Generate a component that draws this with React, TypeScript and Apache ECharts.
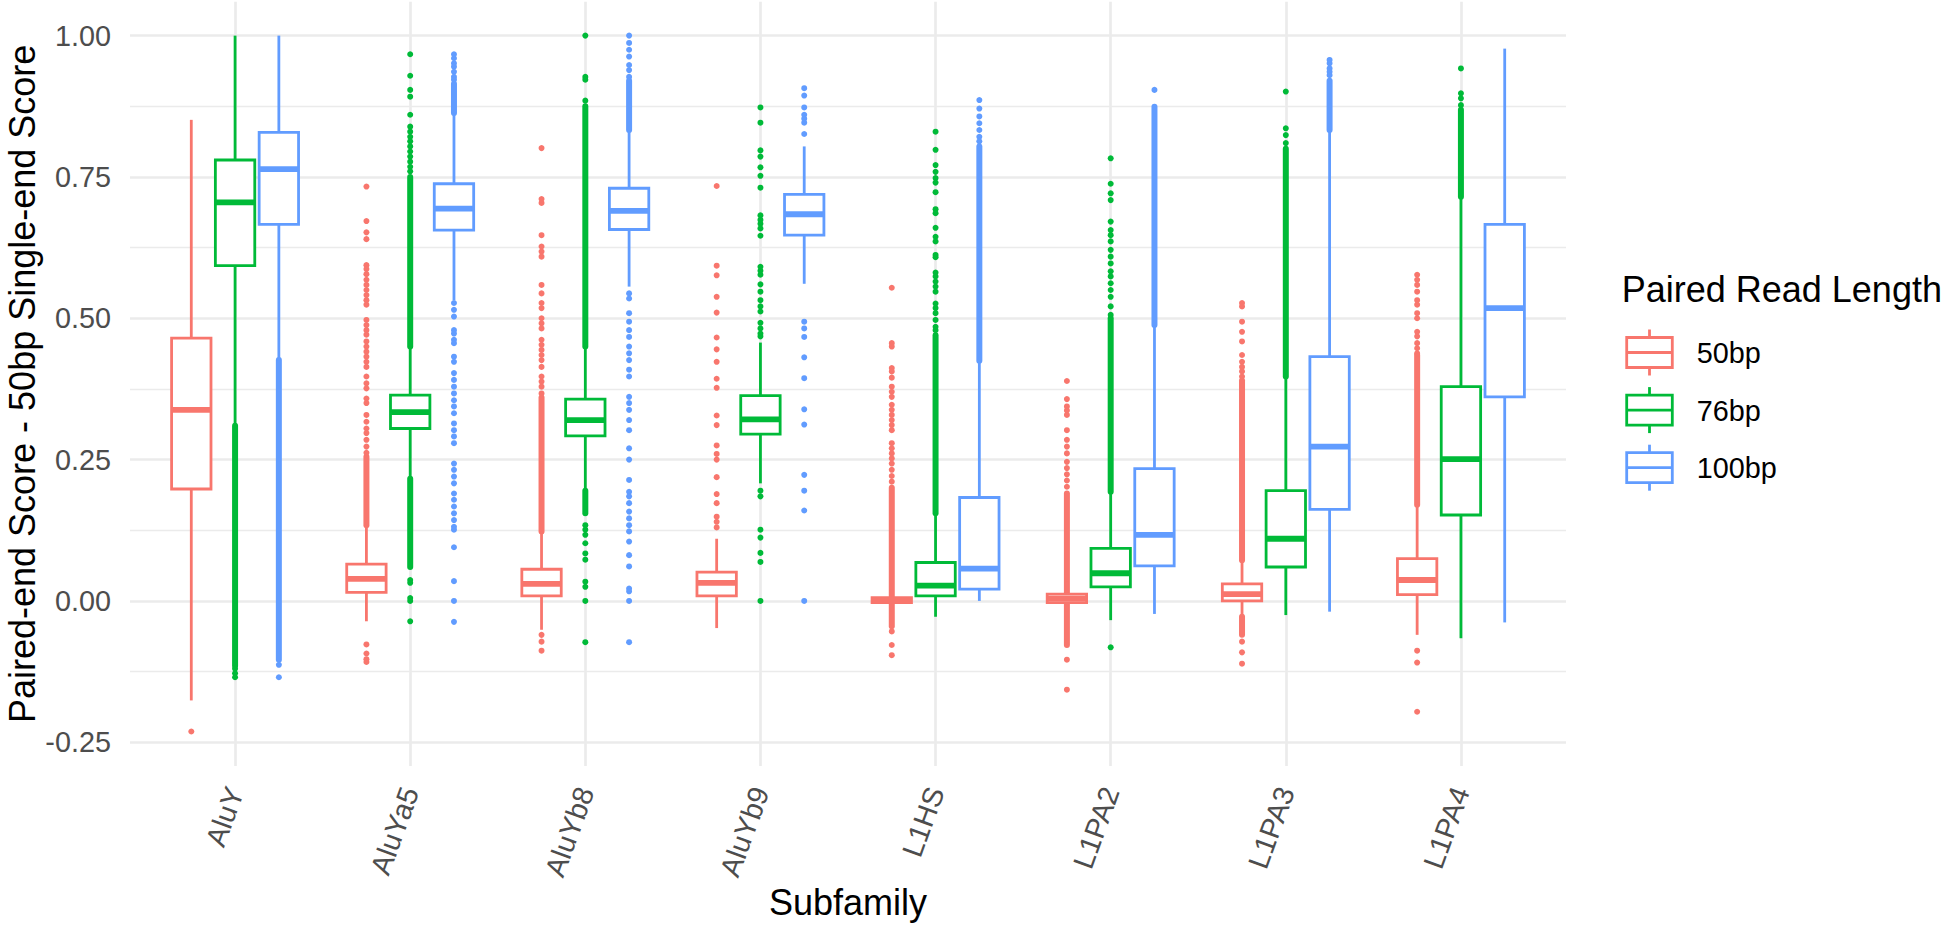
import React, { useEffect, useRef } from 'react';
import * as echarts from 'echarts';

// ---------------- data ----------------
const CATEGORIES = ['AluY', 'AluYa5', 'AluYb8', 'AluYb9', 'L1HS', 'L1PA2', 'L1PA3', 'L1PA4'];
const GROUPS = ['50bp', '76bp', '100bp'];
const COLORS = ['#F8766D', '#00BA38', '#619CFF'];

// [lower whisker, Q1, median, Q3, upper whisker]
const BOX_50 = [
  [-0.176, 0.198, 0.338, 0.465, 0.851],
  [-0.036, 0.015, 0.039, 0.065, 0.134],
  [-0.051, 0.009, 0.030, 0.056, 0.123],
  [-0.048, 0.009, 0.032, 0.051, 0.110],
  [-0.018, -0.003, 0.001, 0.006, 0.020],
  [-0.018, -0.003, 0.004, 0.012, 0.034],
  [-0.028, 0.000, 0.012, 0.030, 0.072],
  [-0.060, 0.011, 0.037, 0.075, 0.170],
];
const BOX_76 = [
  [0.310, 0.593, 0.705, 0.780, 1.000],
  [0.216, 0.305, 0.334, 0.364, 0.450],
  [0.195, 0.292, 0.320, 0.357, 0.450],
  [0.208, 0.295, 0.321, 0.363, 0.457],
  [-0.028, 0.009, 0.027, 0.068, 0.155],
  [-0.034, 0.025, 0.049, 0.093, 0.193],
  [-0.025, 0.060, 0.110, 0.195, 0.397],
  [-0.066, 0.152, 0.251, 0.379, 0.715],
];
const BOX_100 = [
  [0.426, 0.666, 0.764, 0.829, 1.000],
  [0.532, 0.656, 0.694, 0.738, 0.863],
  [0.556, 0.657, 0.690, 0.730, 0.833],
  [0.561, 0.647, 0.684, 0.719, 0.804],
  [0.000, 0.021, 0.057, 0.183, 0.425],
  [-0.023, 0.062, 0.117, 0.234, 0.488],
  [-0.019, 0.162, 0.273, 0.432, 0.833],
  [-0.038, 0.361, 0.518, 0.666, 0.977],
];

// stretches of outliers so dense they merge into a solid column: [from, to]
const RUN_50 = [
  [],
  [[0.134, 0.255]],
  [[0.123, 0.36]],
  [],
  [[0.006, 0.20], [-0.045, -0.003]],
  [[0.012, 0.19], [-0.078, -0.003]],
  [[0.072, 0.39], [-0.06, -0.028]],
  [[0.17, 0.435]],
];
const RUN_76 = [
  [[-0.115, 0.31]],
  [[0.45, 0.75], [0.06, 0.216]],
  [[0.45, 0.875], [0.155, 0.195]],
  [],
  [[0.155, 0.47]],
  [[0.193, 0.50]],
  [[0.397, 0.80]],
  [[0.715, 0.869]],
];
const RUN_100 = [
  [[-0.104, 0.426]],
  [[0.863, 0.915]],
  [[0.833, 0.92]],
  [],
  [[0.425, 0.804]],
  [[0.488, 0.874]],
  [[0.833, 0.92]],
  [],
];

// individual outliers
const OUT_50 = [
  [-0.231],
  [0.733, 0.672, 0.652, 0.640, 0.594, 0.587, 0.578, 0.568, 0.559, 0.550, 0.541, 0.532, 0.524, 0.497, 0.488, 0.479, 0.471, 0.459, 0.450, 0.441, 0.432, 0.423, 0.414, 0.397, 0.385, 0.376, 0.358, 0.350, 0.329, 0.317, 0.305, 0.297, 0.285, 0.273, 0.262, -0.077, -0.093, -0.103, -0.108],
  [0.801, 0.711, 0.704, 0.647, 0.627, 0.618, 0.609, 0.559, 0.544, 0.527, 0.518, 0.500, 0.491, 0.482, 0.462, 0.453, 0.444, 0.435, 0.426, 0.414, 0.397, 0.388, 0.379, 0.367, -0.060, -0.072, -0.088],
  [0.734, 0.593, 0.576, 0.538, 0.510, 0.466, 0.445, 0.423, 0.393, 0.377, 0.328, 0.311, 0.275, 0.260, 0.250, 0.219, 0.189, 0.173, 0.149, 0.140, 0.130],
  [0.554, 0.456, 0.450, 0.412, 0.406, 0.395, 0.379, 0.370, 0.361, 0.347, 0.338, 0.329, 0.320, 0.311, 0.302, 0.279, 0.270, 0.261, 0.252, 0.243, 0.232, 0.221, 0.211, -0.054, -0.078, -0.096],
  [0.389, 0.357, 0.344, 0.337, 0.329, 0.302, 0.285, 0.273, 0.261, 0.246, 0.235, 0.224, 0.213, 0.202, -0.104, -0.157],
  [0.527, 0.521, 0.494, 0.476, 0.459, 0.435, 0.423, 0.414, 0.406, 0.397, -0.072, -0.091, -0.111],
  [0.577, 0.568, 0.559, 0.547, 0.532, 0.524, 0.509, 0.500, 0.476, 0.468, 0.456, 0.447, 0.438, -0.088, -0.109, -0.196],
];
const OUT_76 = [
  [-0.12, -0.128, -0.135],
  [0.967, 0.929, 0.904, 0.892, 0.860, 0.839, 0.830, 0.821, 0.813, 0.804, 0.795, 0.786, 0.777, 0.768, 0.760, 0.037, 0.032, 0.005, 0.0, -0.036],
  [1.0, 0.927, 0.922, 0.885, 0.134, 0.126, 0.117, 0.102, 0.084, 0.073, 0.034, 0.025, 0.0, -0.073],
  [0.873, 0.846, 0.797, 0.786, 0.767, 0.752, 0.731, 0.682, 0.674, 0.667, 0.659, 0.646, 0.591, 0.584, 0.577, 0.560, 0.547, 0.532, 0.521, 0.512, 0.492, 0.482, 0.473, 0.468, 0.195, 0.185, 0.126, 0.112, 0.085, 0.069, 0.0],
  [0.830, 0.798, 0.771, 0.759, 0.748, 0.740, 0.723, 0.693, 0.686, 0.660, 0.644, 0.636, 0.612, 0.608, 0.581, 0.574, 0.565, 0.556, 0.547, 0.526, 0.518, 0.509, 0.497, 0.485, 0.479],
  [0.783, 0.738, 0.721, 0.709, 0.671, 0.656, 0.647, 0.636, 0.621, 0.609, 0.597, 0.583, 0.574, 0.562, 0.550, 0.538, 0.521, 0.506, -0.082],
  [0.901, 0.836, 0.824, 0.810],
  [0.942, 0.898, 0.889, 0.877],
];
const OUT_100 = [
  [-0.113, -0.135],
  [0.967, 0.960, 0.951, 0.945, 0.936, 0.927, 0.922, 0.527, 0.515, 0.503, 0.479, 0.473, 0.462, 0.456, 0.432, 0.423, 0.403, 0.391, 0.379, 0.367, 0.355, 0.344, 0.332, 0.314, 0.302, 0.291, 0.279, 0.243, 0.232, 0.220, 0.208, 0.190, 0.179, 0.167, 0.155, 0.143, 0.131, 0.126, 0.095, 0.035, 0.0, -0.037],
  [1.0, 0.987, 0.975, 0.963, 0.948, 0.939, 0.927, 0.544, 0.535, 0.509, 0.494, 0.479, 0.467, 0.450, 0.438, 0.426, 0.409, 0.397, 0.361, 0.350, 0.338, 0.320, 0.302, 0.270, 0.250, 0.214, 0.193, 0.185, 0.173, 0.158, 0.146, 0.134, 0.123, 0.105, 0.081, 0.061, 0.022, 0.017, 0.0, -0.073],
  [0.907, 0.894, 0.873, 0.860, 0.853, 0.846, 0.826, 0.494, 0.482, 0.467, 0.431, 0.394, 0.339, 0.312, 0.223, 0.195, 0.160, 0.0],
  [0.886, 0.871, 0.857, 0.845, 0.833, 0.821, 0.813],
  [0.904],
  [0.957, 0.951, 0.942, 0.936, 0.930],
  [],
];

const BOXES = [BOX_50, BOX_76, BOX_100];
const RUNS = [RUN_50, RUN_76, RUN_100];
const OUTS = [OUT_50, OUT_76, OUT_100];

const Y_TITLE = 'Paired-end Score - 50bp Single-end Score';
const X_TITLE = 'Subfamily';
const LEGEND_TITLE = 'Paired Read Length';

// ---------------- layout ----------------
const W = 1946;
const H = 927;
const FONT = '"Liberation Sans", Arial, Helvetica, sans-serif';
const PANEL_LEFT = 130;
const PANEL_RIGHT = 1566;
const PANEL_TOP = 1.7;
const PANEL_BOTTOM = 766;
const X_MIN = 0.4;
const X_MAX = 8.6;
const Y_MIN = -0.292;
const Y_MAX = 1.06;
const TICK_MIN = -0.25;
const TICK_MAX = 1.0;
const DODGE = 0.25;
const BOX_W = 0.225;
const OFFSETS = [-DODGE, 0, DODGE];
const LW = 2.8;
const MED_LW = 5.8;
const DOT = 6;
const GRID_COLOR = '#EBEBEB';

const panelW = PANEL_RIGHT - PANEL_LEFT;
const panelH = PANEL_BOTTOM - PANEL_TOP;
const pxPerY = panelH / (Y_MAX - Y_MIN);
const pxPerX = panelW / (X_MAX - X_MIN);
const yPix = (v: number) => PANEL_TOP + (Y_MAX - v) * pxPerY;

function makeBoxRender(g: number) {
  return (params: any, api: any) => {
    const x = api.value(0) + OFFSETS[g];
    const c = COLORS[g];
    const low = api.coord([x, api.value(1)]);
    const q1 = api.coord([x, api.value(2)]);
    const med = api.coord([x, api.value(3)]);
    const q3 = api.coord([x, api.value(4)]);
    const high = api.coord([x, api.value(5)]);
    const half = api.size([BOX_W, 0])[0] / 2;
    const cx = low[0];
    return {
      type: 'group',
      children: [
        { type: 'line', shape: { x1: cx, y1: low[1], x2: cx, y2: q1[1] }, style: { stroke: c, lineWidth: LW } },
        { type: 'line', shape: { x1: cx, y1: q3[1], x2: cx, y2: high[1] }, style: { stroke: c, lineWidth: LW } },
        {
          type: 'rect',
          shape: { x: cx - half, y: q3[1], width: half * 2, height: q1[1] - q3[1] },
          style: { fill: '#FFFFFF', stroke: c, lineWidth: LW },
        },
        { type: 'line', shape: { x1: cx - half, y1: med[1], x2: cx + half, y2: med[1] }, style: { stroke: c, lineWidth: MED_LW } },
      ],
    };
  };
}

function makeRunRender(g: number) {
  return (params: any, api: any) => {
    const x = api.value(0) + OFFSETS[g];
    const a = api.coord([x, api.value(1)]);
    const b = api.coord([x, api.value(2)]);
    return {
      type: 'line',
      shape: { x1: a[0], y1: a[1], x2: b[0], y2: b[1] },
      style: { stroke: COLORS[g], lineWidth: DOT, lineCap: 'round' },
    };
  };
}

function buildOption() {
  const series: any[] = [];
  GROUPS.forEach((name, g) => {
    series.push({
      type: 'scatter',
      name,
      xAxisIndex: 0,
      yAxisIndex: 0,
      symbol: 'circle',
      symbolSize: DOT,
      itemStyle: { color: COLORS[g], opacity: 1 },
      z: 2,
      silent: true,
      data: OUTS[g].flatMap((vals, i) => vals.map((v) => [i + 1 + OFFSETS[g], v])),
    });
    series.push({
      type: 'custom',
      name,
      xAxisIndex: 0,
      yAxisIndex: 0,
      z: 2,
      silent: true,
      renderItem: makeRunRender(g),
      encode: { x: 0, y: [1, 2] },
      data: RUNS[g].flatMap((rs: number[][], i) => rs.map((r) => [i + 1, r[0], r[1]])),
    });
    series.push({
      type: 'custom',
      name,
      xAxisIndex: 0,
      yAxisIndex: 0,
      z: 3,
      silent: true,
      renderItem: makeBoxRender(g),
      encode: { x: 0, y: [1, 2, 3, 4, 5] },
      data: BOXES[g].map((s, i) => [i + 1, ...s]),
    });
  });

  const keyX = 1626.7;
  const keyW = 45.6;
  const keyH = 30;
  const keyTop = 352.5;
  const keyStep = 57.6;
  const legend: any[] = [
    {
      type: 'text',
      x: 1621.7,
      y: 289,
      style: { text: LEGEND_TITLE, fontSize: 36, fontFamily: FONT, fill: '#000000', align: 'left', verticalAlign: 'middle' },
    },
  ];
  GROUPS.forEach((name, g) => {
    const cy = keyTop + g * keyStep;
    const cx = keyX + keyW / 2;
    legend.push(
      { type: 'line', shape: { x1: cx, y1: cy - keyH / 2 - 8, x2: cx, y2: cy - keyH / 2 }, style: { stroke: COLORS[g], lineWidth: LW } },
      { type: 'line', shape: { x1: cx, y1: cy + keyH / 2, x2: cx, y2: cy + keyH / 2 + 8 }, style: { stroke: COLORS[g], lineWidth: LW } },
      { type: 'rect', shape: { x: keyX, y: cy - keyH / 2, width: keyW, height: keyH }, style: { fill: '#FFFFFF', stroke: COLORS[g], lineWidth: LW } },
      { type: 'line', shape: { x1: keyX, y1: cy, x2: keyX + keyW, y2: cy }, style: { stroke: COLORS[g], lineWidth: LW } },
      {
        type: 'text',
        x: 1696.7,
        y: cy + 0.5,
        style: { text: name, fontSize: 28.8, fontFamily: FONT, fill: '#000000', align: 'left', verticalAlign: 'middle' },
      }
    );
  });

  const gridCommon = { outerBoundsMode: 'none', containLabel: false };

  return {
    animation: false,
    backgroundColor: '#FFFFFF',
    textStyle: { fontFamily: FONT },
    grid: [
      // data panel
      { ...gridCommon, left: PANEL_LEFT, top: PANEL_TOP, width: panelW, height: panelH },
      // y ticks / horizontal grid lines
      { ...gridCommon, left: PANEL_LEFT, top: yPix(TICK_MAX), width: panelW, height: yPix(TICK_MIN) - yPix(TICK_MAX) },
      // category labels / vertical grid lines
      { ...gridCommon, left: PANEL_LEFT + (1 - 0.5 - X_MIN) * pxPerX, top: PANEL_TOP, width: 8 * pxPerX, height: panelH },
    ],
    xAxis: [
      { type: 'value', gridIndex: 0, min: X_MIN, max: X_MAX, show: false },
      { type: 'value', gridIndex: 1, min: 0, max: 1, show: false },
      {
        type: 'category',
        gridIndex: 2,
        data: CATEGORIES,
        boundaryGap: true,
        axisLine: { show: false },
        axisTick: { show: true, alignWithLabel: true, inside: true, length: panelH, lineStyle: { color: GRID_COLOR, width: 2.7 } },
        axisLabel: {
          interval: 0,
          rotate: 70,
          fontSize: 28.8,
          color: '#4D4D4D',
          fontFamily: FONT,
          margin: 22,
          padding: [24, 0, 0, 0],
        },
        splitLine: { show: false },
        name: X_TITLE,
        nameLocation: 'middle',
        nameGap: 118,
        nameMoveOverlap: false,
        nameTextStyle: { fontSize: 36, color: '#000000', fontFamily: FONT },
      },
    ],
    yAxis: [
      {
        type: 'value',
        gridIndex: 0,
        min: Y_MIN,
        max: Y_MAX,
        axisLine: { show: false },
        axisTick: { show: false },
        axisLabel: { show: false },
        splitLine: { show: false },
        name: Y_TITLE,
        nameLocation: 'middle',
        nameRotate: 90,
        nameGap: 94,
        nameMoveOverlap: false,
        nameTextStyle: { fontSize: 36, lineHeight: 28, color: '#000000', fontFamily: FONT },
      },
      {
        type: 'value',
        gridIndex: 1,
        min: TICK_MIN,
        max: TICK_MAX,
        interval: 0.25,
        axisLine: { show: false },
        axisTick: { show: false },
        axisLabel: {
          formatter: (v: number) => v.toFixed(2),
          fontSize: 28.8,
          color: '#4D4D4D',
          fontFamily: FONT,
          margin: 19,
        },
        splitLine: { show: true, lineStyle: { color: GRID_COLOR, width: 2.7 } },
        minorTick: { show: false, splitNumber: 2 },
        minorSplitLine: { show: true, lineStyle: { color: GRID_COLOR, width: 1.4 } },
      },
      { type: 'value', gridIndex: 2, show: false, min: 0, max: 1 },
    ],
    series,
    graphic: legend,
  };
}

export default function App() {
  const ref = useRef<HTMLDivElement>(null);
  useEffect(() => {
    if (!ref.current) return;
    const chart = echarts.init(ref.current, null, { renderer: 'svg' });
    chart.setOption(buildOption() as any);
    return () => chart.dispose();
  }, []);
  return (
    <div
      ref={ref}
      style={{ position: 'fixed', left: 0, top: 0, width: W, height: H, background: '#FFFFFF' }}
    />
  );
}
